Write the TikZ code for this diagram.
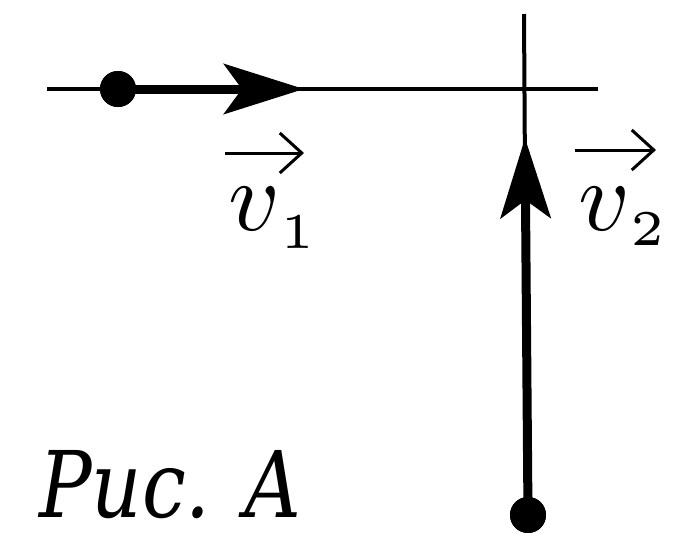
\documentclass[tikz,border=0pt]{standalone}
\usepackage{fontspec}
\newfontfamily\capfont{DejaVu Serif}
\usetikzlibrary{arrows.meta}
\begin{document}
\begin{tikzpicture}[x=1pt,y=-1pt,
  thinline/.style={line width=4pt},
  thickline/.style={line width=9pt},
  bigtip/.style={-{Stealth[length=80pt,width=50pt,inset=18pt]}},
  vecarrow/.style={line width=3pt,-{Straight Barb[length=22pt,width=40pt,line width=3pt]}},
  dotstyle/.style={circle,fill=black,inner sep=0pt,minimum width=32pt,minimum height=36pt},
  lbl/.style={inner sep=0pt,anchor=base west}]
\useasboundingbox (0,0) rectangle (698,552);
\coordinate (hl) at (47,89);
\coordinate (hr) at (598,89);
\coordinate (vt) at (524,14);
\coordinate (vb) at (527,500);
\coordinate (tip1) at (304,89);
\coordinate (tip2) at (525,138);
\coordinate (a1s) at (225,153);
\coordinate (a1e) at (304,153);
\coordinate (a2s) at (575,150);
\coordinate (a2e) at (656,150);
\node[dotstyle] (dot1) at (118,89) {};
\node[dotstyle] (dot2) at (528,515) {};
\draw[thinline] (hl) -- (hr);
\draw[thinline] (vt) -- (vb);
\draw[thickline,bigtip] (dot1.center) -- (tip1);
\draw[thickline,bigtip] (dot2.center) -- (tip2);
\node[dotstyle] at (dot1) {};
\node[dotstyle] at (dot2) {};
\draw[vecarrow] (a1s) -- (a1e);
\draw[vecarrow] (a2s) -- (a2e);
\node[lbl,scale=10] (v1) at (226,230) {$v$\raisebox{-1.8pt}{\fontsize{5}{5}\selectfont 1}};
\node[lbl,scale=10] (v2) at (576,230) {$v$\raisebox{-1.5pt}{\fontsize{5}{5}\selectfont 2}};
\node[lbl,xscale=0.85] (cap) at (39,517) {\fontsize{92}{92}\selectfont\capfont\itshape Рис. А};
\end{tikzpicture}
\end{document}
